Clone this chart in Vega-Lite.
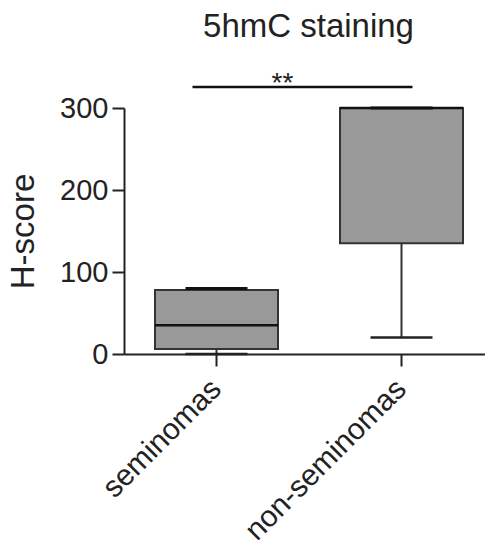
{
  "$schema": "https://vega.github.io/schema/vega-lite/v6.json",
  "autosize": {"type": "none"},
  "padding": {"left": 124, "top": 108, "right": 0, "bottom": 190},
  "width": 361,
  "height": 246,
  "title": {"text": "5hmC staining", "fontSize": 33, "font": "Liberation Sans", "fontWeight": "normal", "color": "#222", "anchor": "middle", "baseline": "alphabetic", "offset": 0, "dx": 4},
  "config": {"view": {"stroke": null}, "font": "Liberation Sans"},
  "datasets": {
    "boxes": [
      {"group": "seminomas", "min": 0, "q1": 6, "median": 35, "q3": 78, "max": 80},
      {"group": "non-seminomas", "min": 20, "q1": 135, "median": 300, "q3": 300, "max": 300}
    ],
    "sig": [
      {"from": "seminomas", "to": "non-seminomas", "y": 325.6, "ly": 319.5, "label": "**"}
    ]
  },
  "encoding": {
    "x": {
      "field": "group", "type": "nominal",
      "scale": {"type": "band", "domain": ["seminomas", "non-seminomas"], "range": [0, 370], "paddingInner": 0, "paddingOuter": 0},
      "axis": {"title": null, "labelAngle": -45, "labelAlign": "right", "labelBaseline": "middle", "labelFontSize": 30, "labelColor": "#222", "labelPadding": 18, "labelLimit": 400, "domainColor": "#222", "domainWidth": 2, "tickColor": "#222", "tickWidth": 2, "tickSize": 12, "labelFont": "Liberation Sans"}
    }
  },
  "layer": [
    {
      "data": {"name": "boxes"},
      "mark": {"type": "rule", "color": "#333", "strokeWidth": 2},
      "encoding": {
        "y": {"field": "min", "type": "quantitative", "scale": {"domain": [0, 300], "nice": false, "zero": true},
          "axis": {"title": "H-score", "titleFontSize": 33, "titleFontWeight": "normal", "titleColor": "#222", "titlePadding": 19, "titleFont": "Liberation Sans", "values": [0, 100, 200, 300], "grid": false, "labelFontSize": 29, "labelColor": "#222", "labelPadding": 4, "labelFont": "Liberation Sans", "domainColor": "#222", "domainWidth": 2, "tickColor": "#222", "tickWidth": 2, "tickSize": 12}},
        "y2": {"field": "q1"}
      }
    },
    {
      "data": {"name": "boxes"},
      "mark": {"type": "rule", "color": "#333", "strokeWidth": 2},
      "encoding": {"y": {"field": "q3", "type": "quantitative"}, "y2": {"field": "max"}}
    },
    {
      "data": {"name": "boxes"},
      "mark": {"type": "bar", "size": 123, "fill": "#999999", "stroke": "#333", "strokeWidth": 2},
      "encoding": {"y": {"field": "q1", "type": "quantitative"}, "y2": {"field": "q3"}}
    },
    {
      "data": {"name": "boxes"},
      "mark": {"type": "tick", "size": 123, "thickness": 2.5, "color": "#111", "opacity": 1},
      "encoding": {"y": {"field": "median", "type": "quantitative"}}
    },
    {
      "data": {"name": "boxes"},
      "mark": {"type": "tick", "size": 62, "thickness": 2.5, "color": "#222", "opacity": 1},
      "encoding": {"y": {"field": "min", "type": "quantitative"}}
    },
    {
      "data": {"name": "boxes"},
      "mark": {"type": "tick", "size": 62, "thickness": 3, "color": "#111", "opacity": 1},
      "encoding": {"y": {"field": "max", "type": "quantitative"}}
    },
    {
      "data": {"name": "sig"},
      "mark": {"type": "rule", "color": "#111", "strokeWidth": 2.5, "xOffset": -24, "x2Offset": 11},
      "encoding": {
        "x": {"field": "from", "type": "nominal"},
        "x2": {"field": "to"},
        "y": {"field": "y", "type": "quantitative"}
      }
    },
    {
      "data": {"name": "sig"},
      "mark": {"type": "text", "fontSize": 28, "font": "Liberation Sans", "color": "#222", "baseline": "alphabetic", "align": "center", "dx": 66},
      "encoding": {
        "x": {"field": "from", "type": "nominal"},
        "y": {"field": "ly", "type": "quantitative"},
        "text": {"field": "label"}
      }
    }
  ]
}
